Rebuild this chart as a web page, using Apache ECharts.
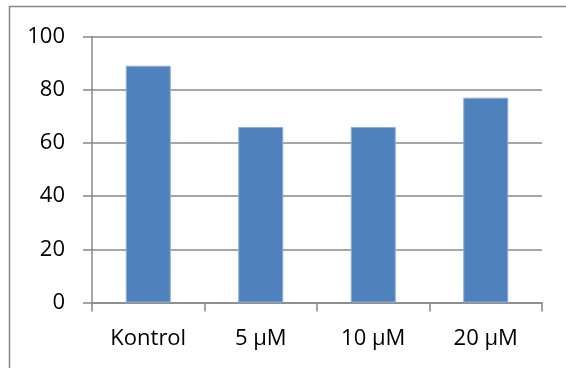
<!DOCTYPE html>
<html>
<head>
<meta charset="utf-8">
<script src="https://cdn.jsdelivr.net/npm/echarts@6/dist/echarts.min.js"></script>
<style>
  html, body { margin: 0; padding: 0; background: #fff; }
  #chart { width: 566px; height: 368px; }
</style>
</head>
<body>
<div id="chart"></div>
<script>
// Categories and values of the bar chart
const categories = ['Kontrol', '5 µM', '10 µM', '20 µM'];
const values = [89, 66, 66, 77];
const yTicks = [0, 20, 40, 60, 80, 100];

const lineColor = '#888888';
const font = '"Open Sans", "Liberation Sans", sans-serif';

const chart = echarts.init(document.getElementById('chart'), null, { renderer: 'canvas' });
chart.setOption({
  animation: false,
  backgroundColor: '#ffffff',
  graphic: [{
    type: 'rect',
    shape: { x: 9.5, y: 6.5, width: 700, height: 500 },
    style: { fill: 'none', stroke: lineColor, lineWidth: 1.5 },
    silent: true
  }],
  grid: { left: 92, right: 24, top: 36.5, bottom: 65.5, containLabel: false },
  xAxis: {
    type: 'category',
    data: categories,
    axisLine: { show: true, lineStyle: { color: lineColor, width: 1.5 } },
    axisTick: { show: true, length: 9, lineStyle: { color: lineColor, width: 1.5 } },
    axisLabel: { margin: 25, color: '#000', fontSize: 22, fontFamily: font }
  },
  yAxis: {
    type: 'value',
    min: yTicks[0],
    max: yTicks[yTicks.length - 1],
    interval: yTicks[1] - yTicks[0],
    axisLine: { show: true, lineStyle: { color: lineColor, width: 1.5 } },
    axisTick: { show: true, length: 9, lineStyle: { color: lineColor, width: 1.5 } },
    splitLine: { show: true, lineStyle: { color: lineColor, width: 1.5 } },
    axisLabel: { margin: 27, color: '#000', fontSize: 22, fontFamily: font }
  },
  series: [{
    type: 'bar',
    data: values,
    barWidth: '40%',
    itemStyle: { color: '#4f81bd', borderColor: '#8fadd8', borderWidth: 1 }
  }]
});
</script>
</body>
</html>
